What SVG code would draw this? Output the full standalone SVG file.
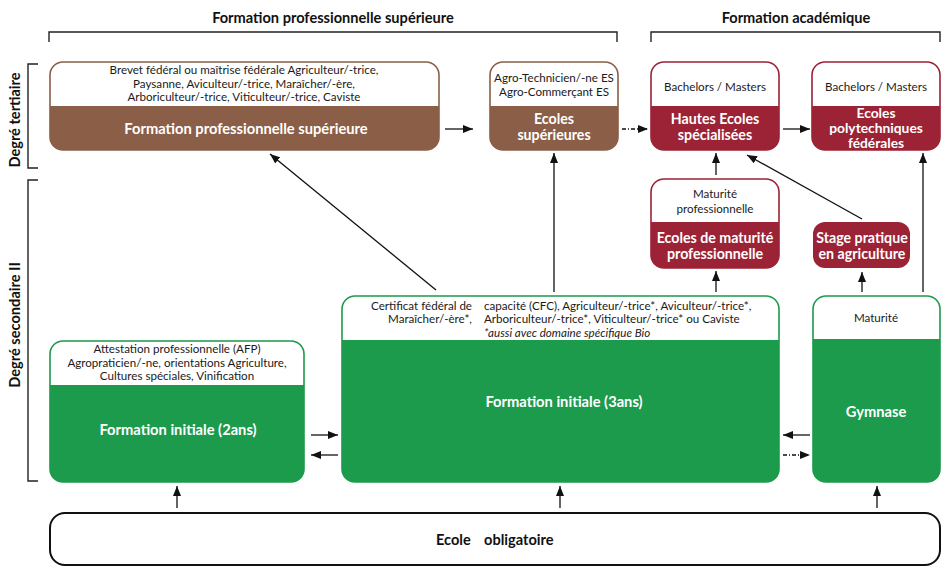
<svg xmlns="http://www.w3.org/2000/svg" width="941" height="566" viewBox="0 0 941 566">
<style>
text{font-family:Lato,"Open Sans","Liberation Sans",sans-serif;}
.s{font-size:11.6px;fill:#1a1a1a;text-anchor:middle;}
.t{font-size:14.7px;font-weight:bold;fill:#fff;text-anchor:middle;}
.t2{font-size:14.2px;}
.t3{font-size:13.8px;}
.h{font-size:14.6px;font-weight:bold;fill:#111;text-anchor:middle;}
.l{text-anchor:start;}
.r{text-anchor:end;}
.br{fill:none;stroke:#222;stroke-width:1.4;}
.c{stroke:#111;stroke-width:1.3;fill:none;marker-end:url(#ah);}
.d{stroke-dasharray:4,2,1,2;}
.bw{fill:#fff;stroke:#8b5e47;stroke-width:1.6;}
.bf{fill:#8b5e47;}
.rw{fill:#fff;stroke:#9b2335;stroke-width:1.6;}
.rf{fill:#9b2335;}
.gw{fill:#fff;stroke:#1b9b4b;stroke-width:1.6;}
.gf{fill:#1b9b4b;}
</style>
<defs>
<marker id="ah" markerUnits="userSpaceOnUse" markerWidth="10" markerHeight="8" refX="10" refY="4" orient="auto">
<path d="M0,0 L10,4 L0,8 Z" fill="#111"/>
</marker>
</defs>

<g id="headers">
<text class="h" x="333" y="23">Formation professionnelle supérieure</text>
<text class="h" x="796" y="23">Formation académique</text>
<path class="br" d="M49,42 V32 H617 V42"/>
<path class="br" d="M651,42 V32 H940 V42"/>
<path class="br" d="M38,64 H28 V168 H38"/>
<path class="br" d="M38,180 H28 V481 H38"/>
<text class="h" transform="translate(20,120) rotate(-90)">Degré tertiaire</text>
<text class="h" transform="translate(20,325) rotate(-90)">Degré secondaire II</text>
</g>

<g id="fps">
<rect class="bw" x="50" y="62" width="389" height="88" rx="13"/>
<path class="bf" d="M50,106 H439 V137 A13,13 0 0 1 426,150 H63 A13,13 0 0 1 50,137 Z"/>
<text class="s" x="244" y="74">Brevet fédéral ou maîtrise fédérale Agriculteur/-trice,</text>
<text class="s" x="244" y="88">Paysanne, Aviculteur/-trice, Maraîcher/-ère,</text>
<text class="s" x="244" y="101">Arboriculteur/-trice, Viticulteur/-trice, Caviste</text>
<text class="t" x="246" y="134">Formation professionnelle supérieure</text>
</g>

<g id="es">
<rect class="bw" x="490" y="62" width="128" height="88" rx="13"/>
<path class="bf" d="M490,106 H618 V137 A13,13 0 0 1 605,150 H503 A13,13 0 0 1 490,137 Z"/>
<text class="s" x="554" y="82">Agro-Technicien/-ne ES</text>
<text class="s" x="554" y="96">Agro-Commerçant ES</text>
<text class="t t2" x="554" y="124">Ecoles</text>
<text class="t t2" x="554" y="140">supérieures</text>
</g>

<g id="hes">
<rect class="rw" x="651" y="62" width="128" height="88" rx="13"/>
<path class="rf" d="M651,106 H779 V137 A13,13 0 0 1 766,150 H664 A13,13 0 0 1 651,137 Z"/>
<text class="s" x="715" y="91">Bachelors / Masters</text>
<text class="t t2" x="715" y="124">Hautes Ecoles</text>
<text class="t t2" x="715" y="140">spécialisées</text>
</g>

<g id="epf">
<rect class="rw" x="812" y="62" width="128" height="88" rx="13"/>
<path class="rf" d="M812,106 H940 V137 A13,13 0 0 1 927,150 H825 A13,13 0 0 1 812,137 Z"/>
<text class="s" x="876" y="91">Bachelors / Masters</text>
<text class="t t3" x="876" y="118">Ecoles</text>
<text class="t t3" x="876" y="133">polytechniques</text>
<text class="t t3" x="876" y="148">fédérales</text>
</g>

<g id="matpro">
<rect class="rw" x="651" y="179" width="128" height="89" rx="13"/>
<path class="rf" d="M651,222 H779 V255 A13,13 0 0 1 766,268 H664 A13,13 0 0 1 651,255 Z"/>
<text class="s" x="715" y="198">Maturité</text>
<text class="s" x="715" y="213">professionnelle</text>
<text class="t t2" x="715" y="243">Ecoles de maturité</text>
<text class="t t2" x="715" y="259">professionnelle</text>
</g>

<g id="stage">
<rect class="rf" x="813" y="222" width="97" height="46" rx="12"/>
<text class="t t2" x="862" y="243">Stage pratique</text>
<text class="t t2" x="862" y="259">en agriculture</text>
</g>

<g id="fi3">
<rect class="gw" x="342" y="296" width="437" height="186" rx="13"/>
<path class="gf" d="M342,340 H779 V469 A13,13 0 0 1 766,482 H355 A13,13 0 0 1 342,469 Z"/>
<text class="s r" x="472" y="310">Certificat fédéral de</text>
<text class="s r" x="472" y="323">Maraîcher/-ère*,</text>
<text class="s l" x="484" y="310">capacité (CFC), Agriculteur/-trice*, Aviculteur/-trice*,</text>
<text class="s l" x="484" y="323">Arboriculteur/-trice*, Viticulteur/-trice* ou Caviste</text>
<text class="s l" x="484" y="337" font-style="italic">*aussi avec domaine spécifique Bio</text>
<text class="t" x="564" y="407">Formation initiale (3ans)</text>
</g>

<g id="gym">
<rect class="gw" x="813" y="296" width="127" height="186" rx="13"/>
<path class="gf" d="M813,339 H940 V469 A13,13 0 0 1 927,482 H826 A13,13 0 0 1 813,469 Z"/>
<text class="s" x="876" y="322">Maturité</text>
<text class="t" x="876" y="417">Gymnase</text>
</g>

<g id="fi2">
<rect class="gw" x="50" y="341" width="254" height="141" rx="13"/>
<path class="gf" d="M50,385 H304 V469 A13,13 0 0 1 291,482 H63 A13,13 0 0 1 50,469 Z"/>
<text class="s" x="177" y="353">Attestation professionnelle (AFP)</text>
<text class="s" x="177" y="367">Agropraticien/-ne, orientations Agriculture,</text>
<text class="s" x="177" y="380">Cultures spéciales, Vinification</text>
<text class="t" x="178" y="435">Formation initiale (2ans)</text>
</g>

<g id="eo">
<rect x="50" y="513" width="890" height="52" rx="15" fill="#fff" stroke="#111" stroke-width="2"/>
<text class="h l" x="436" y="545">Ecole<tspan x="484">obligatoire</tspan></text>
</g>

<g id="connectors">
<line class="c" x1="445" y1="129" x2="473" y2="129"/>
<line class="c d" x1="622" y1="129" x2="648" y2="129"/>
<line class="c" x1="783" y1="129" x2="810" y2="129"/>
<line class="c" x1="436" y1="290" x2="270" y2="154"/>
<line class="c" x1="554" y1="292" x2="554" y2="153"/>
<line class="c" x1="716" y1="175" x2="716" y2="153"/>
<line class="c" x1="716" y1="292" x2="716" y2="271"/>
<line class="c" x1="862" y1="219" x2="747" y2="155"/>
<line class="c" x1="862" y1="292" x2="862" y2="272"/>
<line class="c" x1="923" y1="292" x2="923" y2="153"/>
<line class="c" x1="311" y1="435" x2="338" y2="435"/>
<line class="c" x1="338" y1="455" x2="311" y2="455"/>
<line class="c" x1="810" y1="435" x2="783" y2="435"/>
<line class="c d" x1="783" y1="455" x2="810" y2="455"/>
<line class="c" x1="177" y1="508" x2="177" y2="486"/>
<line class="c" x1="560" y1="508" x2="560" y2="486"/>
<line class="c" x1="877" y1="508" x2="877" y2="486"/>
</g>
</svg>
